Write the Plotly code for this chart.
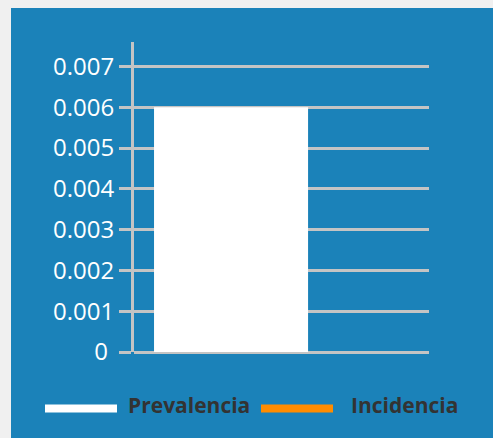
import plotly.graph_objects as go

# Series values (single group, two indicators)
series_names = ["Prevalencia", "Incidencia"]
series_values = [0.006, 0.0]
series_colors = ["#ffffff", "#ff8c00"]
group_label = [""]

# Y-axis ticks
tick_values = [0, 0.001, 0.002, 0.003, 0.004, 0.005, 0.006, 0.007]
tick_labels = ["0\u00a0", "0.001", "0.002", "0.003", "0.004", "0.005", "0.006", "0.007"]

W, H = 493, 438
ML, MR, MT, MB = 134, 64, 42, 86
PW, PH = W - ML - MR, H - MT - MB

BLUE = "#1b82b9"
GRID = "#c4c4c4"
TEXT_DARK = "#333333"


def px(x):
    return (x - ML) / PW


def py(y):
    return (H - MB - y) / PH


fig = go.Figure()
for name, val, col in zip(series_names, series_values, series_colors):
    fig.add_trace(go.Bar(
        x=group_label, y=[val], name=name,
        marker=dict(color=col, line=dict(width=0)),
        showlegend=False, hoverinfo="skip",
    ))

shapes = [
    # light page frame along top and left edges
    dict(type="rect", xref="paper", yref="paper", x0=px(0), x1=px(W), y0=py(8), y1=py(0),
         fillcolor="#f0f0f0", line=dict(width=0), layer="above"),
    dict(type="rect", xref="paper", yref="paper", x0=px(0), x1=px(11), y0=py(H), y1=py(0),
         fillcolor="#f0f0f0", line=dict(width=0), layer="above"),
]

# Legend drawn as line samples with labels
legend_items = [
    (series_names[0], series_colors[0], 45, 117, 126),
    (series_names[1], series_colors[1], 261, 333, 349),
]
annotations = []
for name, col, x0, x1, tx in legend_items:
    shapes.append(dict(type="rect", xref="paper", yref="paper",
                       x0=px(x0), x1=px(x1), y0=py(412.5), y1=py(404.5),
                       fillcolor=col, line=dict(width=0)))
    annotations.append(dict(text=f"<b>{name}</b>", xref="paper", yref="paper",
                            x=px(tx), y=py(405), xanchor="left", yanchor="middle",
                            showarrow=False,
                            font=dict(family="Open Sans", size=21, color=TEXT_DARK)))

fig.update_layout(
    width=W, height=H,
    margin=dict(l=ML, r=MR, t=MT, b=MB, pad=0),
    paper_bgcolor=BLUE, plot_bgcolor=BLUE,
    barmode="group", bargap=0.2,
    shapes=shapes, annotations=annotations,
    xaxis=dict(range=[-0.452, 0.314], showticklabels=False, showgrid=False,
               zeroline=False, showline=False, ticks=""),
    yaxis=dict(range=[0, 0.0076], tickvals=tick_values, ticktext=tick_labels,
               showgrid=True, gridcolor=GRID, gridwidth=3,
               zeroline=True, zerolinecolor=GRID, zerolinewidth=3,
               showline=True, linecolor=GRID, linewidth=3,
               ticks="outside", ticklen=12, tickwidth=3, tickcolor=GRID,
               tickfont=dict(family="Open Sans", size=24, color="#ffffff")),
)

fig.write_html("out.html")
